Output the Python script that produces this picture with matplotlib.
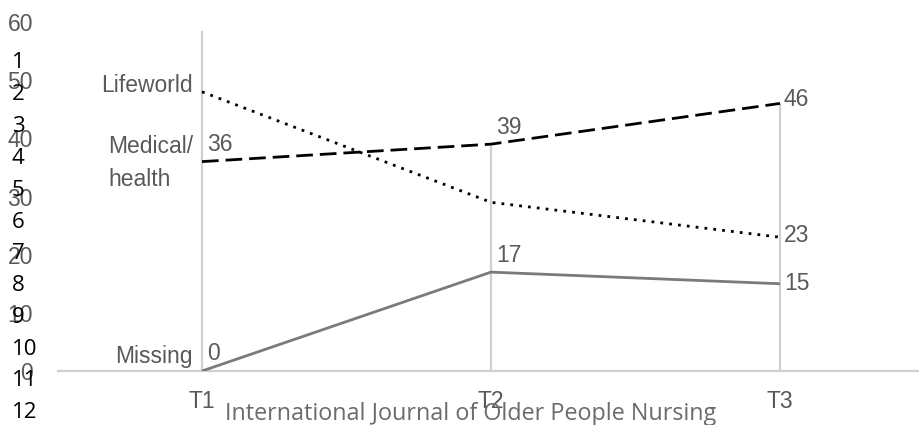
import matplotlib
matplotlib.use('Agg')
import matplotlib.pyplot as plt

# Datos del gráfico
periodos = ['T1', 'T2', 'T3']
lifeworld = [48, 29, 23]
medical = [36, 39, 46]
missing = [0, 17, 15]
ticks_y = [0, 10, 20, 30, 40, 50, 60]
numeros_linea = [str(n) for n in range(1, 13)]

gris_texto = '#595959'
gris_lineas = '#d0d0d0'

fig = plt.figure(figsize=(9.2, 4.25), dpi=100)
alto_px = 371 - 22
ax = fig.add_axes([57.5 / 920, (425 - 371) / 425, 867 / 920, alto_px / 425])

x = list(range(len(periodos)))

# Eje vertical en T1 y líneas de caída en T2, T3
ax.axvline(0, ymax=(371 - 32) / alto_px, color=gris_lineas, lw=1.6, zorder=1)
for i in x[1:]:
    tope = max(lifeworld[i], medical[i], missing[i])
    ax.vlines(i, 0, tope, color=gris_lineas, lw=1.6, zorder=1)

ax.plot(x, missing, color='#7a7a7a', lw=2, solid_capstyle='butt', zorder=3)
ax.plot(x, medical, color='black', lw=2, dashes=(6, 2.5), zorder=3)
ax.plot(x, lifeworld, color='black', lw=2, dashes=(1, 2.2), zorder=3)

ax.set_xlim(-0.5, 2.5)
ax.set_ylim(0, 60)
ax.set_yticks(ticks_y)
ax.set_xticks(x)
ax.set_xticklabels(periodos)
fuente = 'Liberation Sans'
ax.tick_params(axis='y', length=0, pad=17.6, labelsize=16.5, labelcolor=gris_texto)
ax.tick_params(axis='x', length=0, pad=14, labelsize=16.5, labelcolor=gris_texto)
for lab in ax.get_xticklabels() + ax.get_yticklabels():
    lab.set_fontfamily(fuente)

for lado in ['left', 'right', 'top']:
    ax.spines[lado].set_visible(False)
ax.spines['bottom'].set_color(gris_lineas)
ax.spines['bottom'].set_linewidth(1.6)

kw = dict(textcoords='offset pixels', fontsize=16.5, color=gris_texto, family=fuente)

# Nombres de las series a la izquierda de T1
ax.annotate('Lifeworld', (0, lifeworld[0]), xytext=(-9, 6), ha='right', va='center', **kw)
ax.annotate('Medical/\nhealth', (0, medical[0]), xytext=(-9, -1), ha='right', va='center',
            multialignment='left', linespacing=1.55, **kw)
ax.annotate('Missing', (0, missing[0]), xytext=(-9, 14), ha='right', va='center', **kw)

# Etiquetas de valores
for i in [0, 1]:
    ax.annotate(str(medical[i]), (i, medical[i]), xytext=(5, 17), ha='left', va='center', **kw)
    ax.annotate(str(missing[i]), (i, missing[i]), xytext=(5, 17), ha='left', va='center', **kw)
ax.annotate(str(medical[2]), (2, medical[2]), xytext=(4, 4), ha='left', va='center', **kw)
ax.annotate(str(lifeworld[2]), (2, lifeworld[2]), xytext=(4, 2), ha='left', va='center', **kw)
ax.annotate(str(missing[2]), (2, missing[2]), xytext=(4, 0), ha='left', va='center', **kw)

# Numeración de líneas del manuscrito
for k, num in enumerate(numeros_linea):
    y_px = 63 + k * 31.8
    fig.text(12 / 920, 1 - y_px / 425, num, ha='left', va='center', fontsize=16,
             color='black', family='Open Sans')

fig.text(471 / 920, 1 - 420 / 425, 'International Journal of Older People Nursing',
         ha='center', va='baseline', fontsize=16.8, color='#6b6b6b', family='Open Sans')

fig.savefig('out.png', dpi=100)
